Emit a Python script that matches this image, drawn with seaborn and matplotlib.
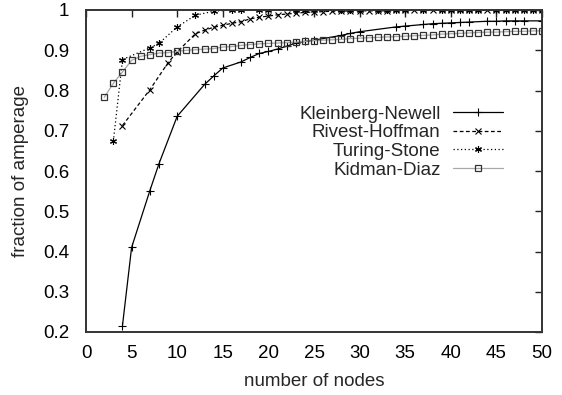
import matplotlib
matplotlib.use('Agg')
import pandas as pd
import matplotlib.pyplot as plt
import seaborn as sns

# Kleinberg-Newell
kn_x = [4, 5, 7, 8, 10, 13, 14, 15, 17, 18, 19, 20, 21, 22, 23, 24, 25, 28, 29, 30,
        34, 35, 37, 38, 39, 40, 41, 42, 44, 45, 46, 47, 48, 50]
kn_y = [0.216, 0.41, 0.551, 0.618, 0.736, 0.815, 0.836, 0.856, 0.871, 0.882, 0.892, 0.897,
        0.903, 0.910, 0.918, 0.922, 0.925, 0.937, 0.942, 0.946, 0.958, 0.960, 0.964, 0.966,
        0.967, 0.968, 0.969, 0.970, 0.972, 0.972, 0.973, 0.973, 0.973, 0.973]

# Rivest-Hoffman
rh_x = [4, 7, 9, 10, 12, 13, 14, 15, 16, 17, 18, 19, 20, 21, 22, 23, 24, 25, 26, 27, 28,
        29, 30, 31, 32, 33, 34, 35, 36, 37, 38, 39, 40, 41, 42, 43, 44, 45, 46, 47, 48, 49, 50]
rh_y = [0.713, 0.802, 0.869, 0.896, 0.941, 0.950, 0.957, 0.962, 0.967, 0.971, 0.978, 0.982,
        0.985, 0.988, 0.990, 0.992, 0.994, 0.995, 0.996, 0.997, 0.997, 0.998, 0.998, 0.998,
        0.998, 0.998, 0.999, 0.999, 0.999, 0.999, 0.999, 0.999, 0.999, 0.999, 0.999, 0.999,
        0.999, 0.999, 0.999, 0.999, 0.999, 0.999, 0.999]

# Turing-Stone
ts_x = [3, 4, 7, 8, 10, 12, 14, 16, 17, 19, 20, 23, 24, 25, 28, 29, 30, 32, 33, 34, 35,
        37, 39, 40, 41, 42, 43, 45, 46, 47, 48, 49, 50]
ts_y = [0.674, 0.877, 0.906, 0.917, 0.958, 0.987, 0.997, 1.0, 1.0, 1.0, 1.0, 1.0, 1.0, 1.0,
        1.0, 1.0, 1.0, 1.0, 1.0, 1.0, 1.0, 1.0, 1.0, 1.0, 1.0, 1.0, 1.0, 1.0, 1.0, 1.0, 1.0,
        1.0, 1.0]

# Kidman-Diaz
kd_x = list(range(2, 51))
kd_y = [0.783, 0.818, 0.846, 0.875, 0.885, 0.889, 0.893, 0.894, 0.897, 0.900, 0.901, 0.903,
        0.904, 0.908, 0.909, 0.912, 0.914, 0.916, 0.917, 0.918, 0.919, 0.920, 0.922, 0.924,
        0.925, 0.926, 0.927, 0.929, 0.930, 0.931, 0.932, 0.933, 0.934, 0.935, 0.936, 0.937,
        0.938, 0.940, 0.941, 0.942, 0.943, 0.944, 0.945, 0.945, 0.946, 0.947, 0.947, 0.948,
        0.948]

sns.set_style('white')
plt.rcParams['font.family'] = ['Liberation Sans', 'DejaVu Sans']

fig = plt.figure(figsize=(5.62, 3.95), dpi=100)
ax = fig.add_axes([86 / 562, 1 - 332 / 395, 456 / 562, 322 / 395])

series = [
    ('Kleinberg-Newell', kn_x, kn_y, dict(color='black', ls='-', marker='+', ms=6, mew=0.8,
                                          mec='black')),
    ('Rivest-Hoffman', rh_x, rh_y, dict(color='black', ls=(0, (3, 2)), marker='x', ms=4.5,
                                        mew=0.8, mec='black')),
    ('Turing-Stone', ts_x, ts_y, dict(color='black', ls=(0, (1, 2)), marker=(6, 2, 0), ms=5,
                                      mew=0.8, mec='black')),
    ('Kidman-Diaz', kd_x, kd_y, dict(color='#a8a8a8', ls='-', marker='s', ms=5, mew=0.9,
                                     mfc='none', mec='#333333')),
]
for name, xs, ys, kw in series:
    df = pd.DataFrame({'x': xs, 'y': ys})
    sns.lineplot(data=df, x='x', y='y', ax=ax, label=name, lw=0.9, **kw)

fs = 13.5
ax.set_xlim(0, 50)
ax.set_ylim(0.2, 1.0)
ax.set_xticks(range(0, 51, 5))
ax.set_yticks([0.2, 0.3, 0.4, 0.5, 0.6, 0.7, 0.8, 0.9, 1.0])
ax.set_yticklabels(['0.2', '0.3', '0.4', '0.5', '0.6', '0.7', '0.8', '0.9', '1'])
ax.tick_params(direction='in', length=5, width=1, top=True, right=True,
               labelsize=fs, colors='#222222', labelcolor='black')
ax.tick_params(axis='y', pad=12)
ax.tick_params(axis='x', pad=9)
for s in ax.spines.values():
    s.set_linewidth(1.4)
    s.set_color('#333333')
ax.set_xlabel('number of nodes', fontsize=fs, labelpad=8)
ax.set_ylabel('fraction of amperage', fontsize=fs, labelpad=10)

ax.legend(loc='upper right', bbox_to_anchor=(0.915, 0.703), frameon=False, markerfirst=False,
          fontsize=fs, handlelength=2.7, handletextpad=0.65, labelspacing=0.08,
          borderaxespad=0, borderpad=0, numpoints=1)

fig.savefig('out.png', dpi=100)
